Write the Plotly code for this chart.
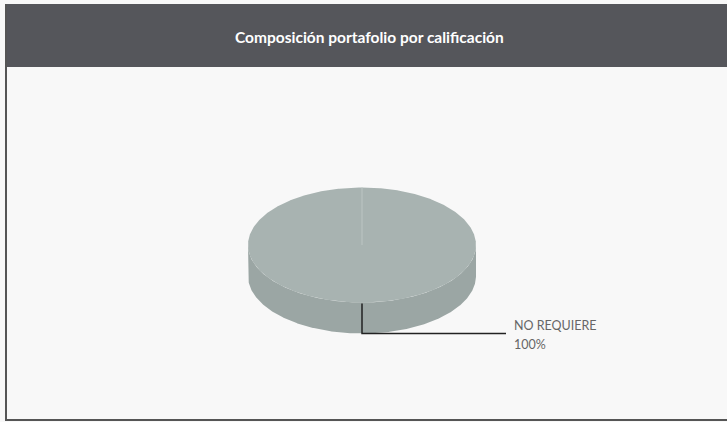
import numpy as np
import plotly.graph_objects as go

# ---- data ----
categories = ["NO REQUIERE"]
values = [100]
title_text = "Composición portafolio por calificación"

# ---- style / geometry (pixel space) ----
W, H = 727, 422
cx, cy = 362, 245          # centre of pie top face
rx, ry = 114, 57.5         # ellipse radii
depth = 31                 # 3D thickness
start_deg = 90             # first slice starts at 12 o'clock, clockwise
top_colors = ["#a8b3b1"]
side_colors = ["#9ba6a4"]
edge_color = "#bcc5c3"
text_color = "#666666"

fig = go.Figure()

total = float(sum(values))
fracs = [v / total for v in values]


def pt(theta_deg, dy=0.0):
    t = np.radians(theta_deg)
    return cx + rx * np.cos(t), cy - ry * np.sin(t) + dy


# side faces (visible lower half)
a0 = start_deg
for i, f in enumerate(fracs):
    a1 = a0 - 360 * f
    th = np.linspace(a0, a1, 721)
    low = np.sin(np.radians(th)) <= 1e-9
    runs, cur = [], []
    for t, ok in zip(th, low):
        if ok:
            cur.append(t)
        elif cur:
            runs.append(cur)
            cur = []
    if cur:
        runs.append(cur)
    for r in runs:
        r = np.array(r)
        xs_t, ys_t = pt(r)
        xs_b, ys_b = pt(r[::-1], depth)
        xs = np.concatenate([xs_t, xs_b, xs_t[:1]])
        ys = np.concatenate([ys_t, ys_b, ys_t[:1]])
        fig.add_trace(go.Scatter(x=xs, y=ys, mode="lines", fill="toself",
                                 fillcolor=side_colors[i % len(side_colors)],
                                 line=dict(width=0), hoverinfo="skip",
                                 showlegend=False))
    a0 = a1

# top faces
a0 = start_deg
for i, f in enumerate(fracs):
    a1 = a0 - 360 * f
    th = np.linspace(a0, a1, 721)
    xs, ys = pt(th)
    if f < 0.9999:
        xs = np.concatenate([[cx], xs, [cx]])
        ys = np.concatenate([[cy], ys, [cy]])
    fig.add_trace(go.Scatter(x=xs, y=ys, mode="lines", fill="toself",
                             fillcolor=top_colors[i % len(top_colors)],
                             line=dict(width=0), hoverinfo="skip",
                             name=categories[i], showlegend=False))
    a0 = a1

# slice boundary lines
a0 = start_deg
for i, f in enumerate(fracs):
    bx, by = pt(a0)
    fig.add_trace(go.Scatter(x=[cx, bx], y=[cy, by], mode="lines",
                             line=dict(color=edge_color, width=1),
                             hoverinfo="skip", showlegend=False))
    a0 = a0 - 360 * f

# leader lines and labels
a0 = start_deg
for i, f in enumerate(fracs):
    mid = a0 - 180 * f
    ex, ey = pt(mid)
    ey2 = ey + depth
    fig.add_trace(go.Scatter(x=[ex, ex, ex + 144], y=[ey + 1, ey2, ey2],
                             mode="lines", line=dict(color="#222222", width=1.5),
                             hoverinfo="skip", showlegend=False))
    fig.add_annotation(x=ex + 150, y=ey2 - 8, text=categories[i], showarrow=False,
                       xanchor="left", yanchor="middle", xref="x", yref="y",
                       font=dict(family="Lato", size=12.5, color=text_color))
    fig.add_annotation(x=ex + 150, y=ey2 + 11, text=f"{round(f * 100)}%",
                       showarrow=False, xanchor="left", yanchor="middle",
                       xref="x", yref="y",
                       font=dict(family="Lato", size=12.5, color=text_color))
    a0 = a0 - 360 * f

# header bar and frame
fig.add_shape(type="rect", xref="x", yref="y", x0=5, x1=W, y0=4, y1=67,
              fillcolor="#55565b", line=dict(width=0), layer="below")
fig.add_shape(type="line", xref="x", yref="y", x0=6, x1=6, y0=4, y1=421,
              line=dict(color="#555555", width=2), layer="above")
fig.add_shape(type="line", xref="x", yref="y", x0=5, x1=W, y0=420, y1=420,
              line=dict(color="#555555", width=2), layer="above")
fig.add_annotation(x=(5 + W) / 2 + 3, y=37, xref="x", yref="y", text=title_text,
                   showarrow=False, xanchor="center", yanchor="middle",
                   font=dict(family="Lato", size=15.5, color="white", weight="bold"))

fig.update_layout(
    width=W, height=H,
    margin=dict(l=0, r=0, t=0, b=0),
    paper_bgcolor="#f8f8f8",
    plot_bgcolor="rgba(0,0,0,0)",
    xaxis=dict(range=[0, W], visible=False, fixedrange=True),
    yaxis=dict(range=[H, 0], visible=False, fixedrange=True),
    showlegend=False,
)

fig.write_html("out.html",
               config={"displayModeBar": False},
               post_script="document.body.style.margin='0';"
                           "document.body.style.overflow='hidden';")
